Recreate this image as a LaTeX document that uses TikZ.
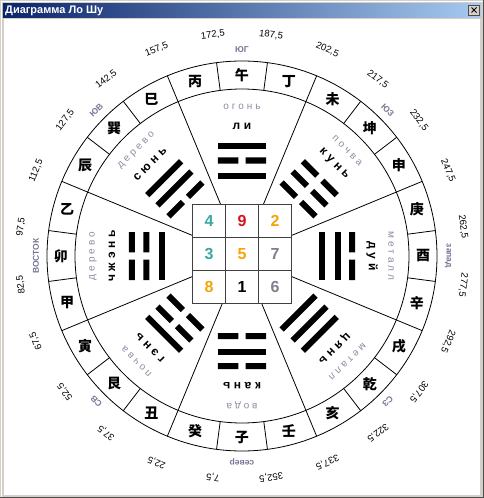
\documentclass[tikz,border=0pt]{standalone}
\usepackage{fontspec}
\setmainfont{Liberation Sans}
\newfontfamily\cjk{Noto Sans CJK SC}
\newfontfamily\wide[LetterSpace=30]{Liberation Sans}
\usetikzlibrary{calc}

\definecolor{winframe}{RGB}{212,208,200}
\definecolor{titledark}{RGB}{10,36,106}
\definecolor{titlelight}{RGB}{166,202,240}
\definecolor{dirgray}{RGB}{118,118,150}
\definecolor{elemgray}{RGB}{140,140,165}
\definecolor{numteal}{RGB}{56,168,160}
\definecolor{numred}{RGB}{210,20,30}
\definecolor{numorange}{RGB}{245,165,10}
\definecolor{numgray}{RGB}{128,128,140}

% one line of a trigram: #1 = 1 solid, 0 broken; #2 = distance from centre
\newcommand\yao[2]{%
  \ifnum#1=1
    \fill (-24,#2-3) rectangle (24,#2+3);
  \else
    \fill (-24,#2-3) rectangle (-3.6,#2+3) (3.6,#2-3) rectangle (24,#2+3);
  \fi}

\begin{document}
\begin{tikzpicture}[x=1pt, y=1pt,
    ring/.style={line width=0.8pt},
    mtn/.style={font=\cjk\fontsize{14}{14}\selectfont\bfseries, inner sep=0pt},
    deg/.style={font=\fontsize{9.5}{10}\selectfont, inner sep=0pt},
    dirlabel/.style={font=\fontsize{8.5}{9}\selectfont\bfseries, text=dirgray, inner sep=0pt},
    gua/.style={font=\wide\fontsize{12}{12}\selectfont\bfseries, inner sep=0pt},
    elem/.style={font=\wide\fontsize{10}{10}\selectfont, text=elemgray, inner sep=0pt},
    cell/.style={draw=black!75, line width=1.2pt, fill=white, minimum size=33pt,
      inner sep=0pt, font=\fontsize{16}{16}\selectfont\bfseries},
    btn/.style={draw=black!70, fill=winframe, minimum width=11pt, minimum height=10.5pt, inner sep=0pt}]
  \useasboundingbox (-242,-242) rectangle (242,256);

  % window
  \fill[winframe] (-242,-242) rectangle (242,256);
  \draw[white] (-241,-241) -- (-241,255) -- (241,255);
  \draw[black!70] (-242,-241.5) -- (241.5,-241.5) -- (241.5,256);
  \fill[white] (-238,-238.5) rectangle (238,236.5);
  \shade[left color=titledark, right color=titlelight] (-239,238.7) rectangle (239,252.7);
  \node[anchor=west, text=white, font=\fontsize{11}{11}\selectfont\bfseries, inner sep=0pt]
    (title) at (-237,245.5) {Диаграмма Ло Шу};
  \node[btn] (close) at (232,246) {};
  \draw[line width=1pt] ($(close.center)+(-2.5,-2.5)$) -- ($(close.center)+(2.5,2.5)$)
    ($(close.center)+(-2.5,2.5)$) -- ($(close.center)+(2.5,-2.5)$);

  % circles and dividers
  \foreach \a in {22.5,67.5,...,337.5}
    \draw[ring] (0,0) -- (\a:167);
  \foreach \i in {0,...,23}
    \draw[ring] ({262.5-15*\i}:167) -- ({262.5-15*\i}:195);
  \draw[ring] (0,0) circle[radius=167] (0,0) circle[radius=195];

  % 24 mountains
  \foreach \ch [count=\i from 0] in {子,癸,丑,艮,寅,甲,卯,乙,辰,巽,巳,丙,午,丁,未,坤,申,庚,酉,辛,戌,乾,亥,壬}
    \node[mtn] (m\i) at ({270-15*\i}:181) {\ch};

  % degrees
  \foreach \i in {0,...,23} {
    \pgfmathtruncatemacro\d{7+15*\i}
    \node[deg, rotate={172.5-15*\i}] (d\i) at ({262.5-15*\i}:223) {\d,5};
  }

  % compass points
  \foreach \c/\txt in {0/север, 45/СВ, 90/ВОСТОК, 135/ЮВ, 180/ЮГ, 225/ЮЗ, 270/запад, 315/СЗ}
    \node[dirlabel, rotate={180-\c}] (dir\c) at ({270-\c}:206) {\txt};

  % trigrams
  \foreach \c/\nm/\el/\ya/\yb/\yc [count=\k] in {180/ли/огонь/1/0/1, 225/кунь/почва/0/0/0,
      270/дуй/металл/1/1/0, 315/цянь/металл/1/1/1, 0/кань/вода/0/1/0,
      45/гэнь/почва/0/0/1, 90/чжэнь/дерево/1/0/0, 135/сюнь/дерево/0/1/1} {
    \begin{scope}[rotate={180-\c}, transform shape]
      \yao{\ya}{80} \yao{\yb}{95.5} \yao{\yc}{110}
      \node[gua] (g\k) at (0,130) {\nm};
      \node[elem] (e\k) at (0,149) {\el};
    \end{scope}
  }

  % magic square
  \foreach \n/\col/\cx/\cy in {4/numteal/-1/1, 9/numred/0/1, 2/numorange/1/1,
      3/numteal/-1/0, 5/numorange/0/0, 7/numgray/1/0,
      8/numorange/-1/-1, 1/black/0/-1, 6/numgray/1/-1}
    \node[cell, text=\col] (c\n) at ({33*(\cx)},{2+33*(\cy)}) {\n};
\end{tikzpicture}
\end{document}
